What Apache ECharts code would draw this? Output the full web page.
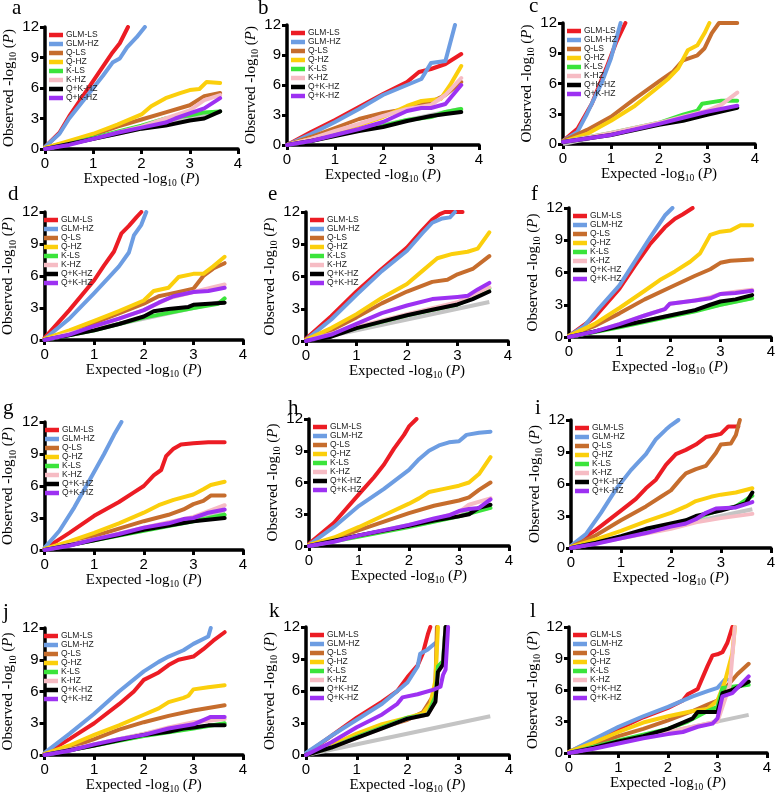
<!DOCTYPE html>
<html><head><meta charset="utf-8">
<script src="https://cdn.jsdelivr.net/npm/echarts@6/dist/echarts.min.js"></script>
<style>html,body{margin:0;padding:0;background:#fff}#c{width:778px;height:797px}</style>
</head><body><div id="c"></div>
<script>
const panelLetters = ['a','b','c','d','e','f','g','h','i','j','k','l'];
const seriesNames = ['GLM-LS','GLM-HZ','Q-LS','Q-HZ','K-LS','K-HZ','Q+K-LS','Q+K-HZ'];
const legendLabels = ['GLM-LS','GLM-HZ','Q-LS','Q-HZ','K-LS','K-HZ','Q+K-HZ','Q+K-HZ'];
const seriesColors = ['#ec1c24','#6d9de2','#c66d2d','#fbcf0c','#3be43b','#f6bcc4','#000000','#9d31f2'];
const xTicks = [0,1,2,3,4];
const yTicks = [0,3,6,9,12];
const diagonal = [[0,0],[3.63,3.63]];

const panelA = [
  [[0,0.2],[0.3,1.6],[0.5,3.2],[0.8,5.3],[1.0,6.7],[1.2,8.1],[1.4,9.5],[1.55,10.4],[1.72,12]],
  [[0,0.2],[0.3,1.5],[0.5,3.0],[0.8,4.8],[1.0,6.0],[1.2,7.2],[1.4,8.5],[1.55,8.9],[1.7,10.0],[1.9,11.0],[2.07,12]],
  [[0,0.1],[0.5,0.7],[1,1.4],[1.5,2.2],[2,2.9],[2.5,3.6],[3.0,4.3],[3.3,5.2],[3.63,5.5]],
  [[0,0.1],[0.5,0.8],[1,1.5],[1.5,2.4],[2,3.4],[2.2,4.2],[2.5,5.0],[2.8,5.5],[3.0,5.8],[3.2,5.9],[3.35,6.6],[3.63,6.5]],
  [[0,0],[0.5,0.5],[1,1.1],[1.5,1.7],[2,2.3],[2.5,3.0],[3.0,3.3],[3.3,3.6],[3.63,3.7]],
  [[0,0],[0.5,0.5],[1,1.0],[1.5,1.6],[2,2.2],[2.5,3.0],[3.0,3.8],[3.3,4.8],[3.63,5.3]],
  [[0,0],[0.5,0.5],[1,1.0],[1.5,1.5],[2,2.0],[2.5,2.3],[3.0,2.8],[3.3,3.0],[3.63,3.7]],
  [[0,0],[0.5,0.4],[1,1.0],[1.5,1.6],[2,2.1],[2.5,2.6],[2.7,3.0],[3.0,3.5],[3.3,4.0],[3.63,5.0]]
];
const panelB = [
  [[0,0],[0.5,1.3],[1,2.5],[1.5,3.8],[2,5.1],[2.5,6.3],[2.75,7.3],[3.0,7.6],[3.3,8.1],[3.63,9.1]],
  [[0,0],[0.5,1.1],[1,2.3],[1.5,3.6],[2,5.0],[2.5,6.0],[2.8,6.6],[3.0,8.2],[3.3,8.4],[3.5,12]],
  [[0,0],[0.5,0.8],[1,1.7],[1.5,2.6],[2,3.2],[2.5,3.6],[3.0,4.3],[3.3,5.0],[3.63,6.3]],
  [[0,0],[0.5,0.6],[1,1.3],[1.5,2.0],[2,2.8],[2.5,3.9],[2.8,4.4],[3.0,4.5],[3.2,4.6],[3.4,6.0],[3.63,7.9]],
  [[0,0],[0.5,0.4],[1,1.0],[1.5,1.5],[2,1.9],[2.5,2.5],[3.0,2.8],[3.3,3.3],[3.63,3.6]],
  [[0,0],[0.5,0.6],[1,1.4],[1.5,2.1],[2,2.9],[2.5,3.6],[3.0,4.0],[3.3,5.0],[3.63,6.7]],
  [[0,0],[0.5,0.4],[1,0.9],[1.5,1.4],[2,1.8],[2.5,2.4],[3.0,2.9],[3.3,3.1],[3.63,3.3]],
  [[0,0],[0.5,0.4],[1,1.0],[1.5,1.6],[2,2.3],[2.5,3.4],[2.8,3.7],[3.0,3.7],[3.3,4.1],[3.63,6.0]]
];
const panelC = [
  [[0,0.3],[0.3,1.5],[0.6,4.0],[0.9,7.5],[1.1,10],[1.3,12]],
  [[0,0.3],[0.3,1.2],[0.5,3.0],[0.8,6.0],[1.0,8.5],[1.2,12]],
  [[0,0.3],[0.5,1.4],[1,2.7],[1.5,4.5],[2,6.2],[2.3,7.2],[2.5,8.3],[2.8,8.8],[2.95,9.5],[3.1,11.0],[3.25,12],[3.63,12]],
  [[0,0.2],[0.5,1.0],[1,2.3],[1.5,3.8],[2,5.7],[2.2,6.5],[2.4,7.5],[2.6,9.3],[2.8,9.8],[2.95,11],[3.05,12]],
  [[0,0.2],[1,1.1],[2,2.1],[2.5,2.9],[2.8,3.3],[2.9,4.0],[3.3,4.3],[3.63,4.3]],
  [[0,0.2],[1,1.1],[2,2.1],[2.5,2.7],[3,3.3],[3.3,3.9],[3.63,5.1]],
  [[0,0.2],[1,0.9],[2,1.9],[2.5,2.3],[3,2.9],[3.63,3.6]],
  [[0,0.2],[1,0.9],[2,2.0],[2.5,2.6],[3,3.2],[3.63,3.8]]
];
const panelD = [
  [[0,0.2],[0.5,2.8],[1,5.6],[1.2,7.0],[1.4,8.3],[1.55,10],[1.7,10.7],[1.85,11.5],[1.95,12]],
  [[0,0.1],[0.5,2.0],[1,4.4],[1.3,5.9],[1.5,6.9],[1.7,8.2],[1.8,9.8],[1.95,10.8],[2.05,12]],
  [[0,0.1],[0.5,0.8],[1,1.6],[1.5,2.5],[2,3.4],[2.3,4.1],[2.5,4.3],[2.8,4.6],[3.0,4.8],[3.2,6.0],[3.4,6.7],[3.63,7.2]],
  [[0,0.1],[0.5,0.9],[1,1.8],[1.5,2.7],[2,3.7],[2.2,4.6],[2.5,4.9],[2.7,5.9],[3,6.2],[3.2,6.2],[3.4,6.9],[3.63,7.8]],
  [[0,0],[1,0.9],[2,2.1],[3,3.0],[3.5,3.4],[3.63,3.9]],
  [[0,0],[1,1.2],[2,2.8],[2.5,3.9],[3,4.5],[3.63,5.2]],
  [[0,0],[1,0.9],[1.5,1.5],[2,2.2],[2.2,2.7],[2.5,2.9],[2.9,3.1],[3,3.3],[3.63,3.5]],
  [[0,0],[0.5,0.5],[1,1.3],[1.5,2.0],[2,2.8],[2.3,3.5],[2.6,4.1],[3,4.5],[3.3,4.6],[3.63,4.9]]
];
const panelE = [
  [[0,0.2],[0.5,2.3],[1,4.6],[1.5,6.7],[2,8.7],[2.3,10.3],[2.5,11.3],[2.65,11.8],[2.75,12],[3.1,12]],
  [[0,0.1],[0.5,2.0],[1,4.3],[1.5,6.5],[2,8.4],[2.3,10.0],[2.5,11.0],[2.7,11.4],[2.85,11.5],[2.95,12]],
  [[0,0.1],[0.5,1.0],[1,2.2],[1.5,3.5],[2,4.6],[2.5,5.5],[2.8,5.7],[3.0,6.2],[3.3,6.7],[3.63,7.9]],
  [[0,0.1],[0.5,1.2],[1,2.5],[1.5,4.0],[2,5.3],[2.3,6.5],[2.6,7.7],[2.9,8.1],[3.2,8.3],[3.4,8.6],[3.63,10.1]],
  [[0,0],[1,1.2],[2,2.4],[2.5,2.9],[3,3.4],[3.3,4.0],[3.63,4.9]],
  [[0,0],[1,1.3],[2,2.5],[3,3.6],[3.63,5.0]],
  [[0,0],[0.5,0.4],[1,1.2],[1.5,1.8],[2,2.4],[2.5,2.9],[3,3.4],[3.3,3.9],[3.63,4.6]],
  [[0,0],[0.5,0.6],[1,1.6],[1.5,2.6],[2,3.3],[2.5,3.9],[3,4.1],[3.2,4.2],[3.4,4.8],[3.63,5.4]]
];
const panelF = [
  [[0,0.1],[0.5,1.8],[1,4.5],[1.3,6.6],[1.6,8.6],[1.9,10.2],[2.1,11],[2.25,11.4],[2.45,12]],
  [[0,0.1],[0.3,1.0],[0.6,2.7],[1,4.8],[1.3,7.0],[1.6,9.2],[1.9,11.3],[2.05,12]],
  [[0,0.1],[0.5,1.0],[1,2.2],[1.5,3.5],[2,4.6],[2.5,5.7],[2.8,6.3],[3.0,6.9],[3.2,7.1],[3.63,7.2]],
  [[0,0.1],[0.5,1.2],[1,2.7],[1.5,4.3],[1.8,5.3],[2.1,6.1],[2.4,7.0],[2.6,7.8],[2.8,9.5],[3.0,9.8],[3.2,9.9],[3.4,10.4],[3.63,10.4]],
  [[0,0],[1,0.9],[2,1.9],[2.5,2.4],[3,3.0],[3.63,3.6]],
  [[0,0],[0.5,0.5],[1,1.2],[1.5,2.0],[1.9,2.6],[2.0,3.1],[2.5,3.4],[2.8,3.7],[3.0,4.0],[3.3,4.2],[3.63,4.4]],
  [[0,0],[1,1.0],[2,2.0],[2.5,2.5],[2.8,3.0],[3.0,3.3],[3.3,3.5],[3.63,3.9]],
  [[0,0],[0.5,0.5],[1,1.2],[1.5,2.0],[1.9,2.6],[2.0,3.1],[2.5,3.4],[2.8,3.6],[3.0,4.0],[3.3,4.1],[3.63,4.3]]
];
const panelG = [
  [[0,0.1],[0.5,1.6],[1,3.2],[1.5,4.5],[1.8,5.4],[2,6.0],[2.2,7.0],[2.35,7.5],[2.45,8.8],[2.6,9.5],[2.75,9.9],[3.0,10.0],[3.3,10.1],[3.63,10.1]],
  [[0,0.2],[0.3,1.8],[0.6,4.0],[0.9,6.5],[1.2,9.0],[1.4,10.8],[1.55,12]],
  [[0,0.1],[0.5,0.6],[1,1.3],[1.5,2.0],[2,2.7],[2.5,3.3],[2.8,3.8],[3,4.3],[3.2,4.6],[3.35,5.1],[3.63,5.1]],
  [[0,0.1],[0.5,0.8],[1,1.6],[1.5,2.5],[2,3.5],[2.3,4.2],[2.6,4.7],[3,5.2],[3.2,5.7],[3.35,6.1],[3.63,6.4]],
  [[0,0],[1,0.9],[2,1.8],[3,2.7],[3.63,3.3]],
  [[0,0],[1,1.0],[2,2.1],[2.5,2.6],[3,3.1],[3.63,4.2]],
  [[0,0],[1,0.9],[2,1.9],[2.5,2.3],[3,2.7],[3.63,3.0]],
  [[0,0],[0.5,0.4],[1,1.0],[1.5,1.5],[2,2.1],[2.5,2.5],[2.8,2.9],[3.0,3.0],[3.3,3.5],[3.63,3.8]]
];
const panelH = [
  [[0,0.2],[0.5,2.2],[1,4.9],[1.3,6.5],[1.5,7.7],[1.7,9.2],[1.9,10.5],[2.0,11.3],[2.15,12]],
  [[0,0.1],[0.5,1.8],[1,3.8],[1.5,5.4],[2,7.2],[2.2,8.2],[2.4,9.0],[2.6,9.5],[2.8,9.8],[3,9.9],[3.15,10.5],[3.4,10.7],[3.63,10.8]],
  [[0,0.1],[0.5,0.7],[1,1.5],[1.5,2.3],[2,3.1],[2.5,3.8],[3,4.3],[3.2,4.6],[3.4,5.3],[3.63,6.0]],
  [[0,0.1],[0.5,0.8],[1,1.8],[1.5,2.9],[2,4.0],[2.2,4.5],[2.4,5.1],[2.7,5.4],[3,5.7],[3.2,6.0],[3.4,6.8],[3.63,8.4]],
  [[0,0],[1,0.9],[2,1.8],[3,2.8],[3.63,3.6]],
  [[0,0],[1,1.0],[2,1.9],[2.5,2.5],[3,3.2],[3.2,3.9],[3.63,4.5]],
  [[0,0],[1,1.0],[2,1.9],[2.5,2.4],[3,2.8],[3.2,3.0],[3.4,3.6],[3.63,3.9]],
  [[0,0],[0.5,0.4],[1,1.0],[1.5,1.5],[2,2.0],[2.5,2.6],[2.8,2.9],[3,3.3],[3.2,3.5],[3.4,3.6],[3.63,4.4]]
];
const panelI = [
  [[0,0.1],[0.5,1.7],[1,3.5],[1.3,4.6],[1.5,5.6],[1.7,6.4],[1.9,7.8],[2.1,8.8],[2.3,9.2],[2.5,9.7],[2.7,10.4],[2.9,10.6],[3.0,10.7],[3.15,11.4],[3.35,11.4]],
  [[0,0.2],[0.3,1.3],[0.6,3.3],[0.9,5.5],[1.2,7.3],[1.5,8.8],[1.7,10.2],[1.9,11.1],[2.0,11.5],[2.15,12]],
  [[0,0.1],[0.5,1.2],[1,2.6],[1.5,3.9],[1.8,4.8],[2.0,5.4],[2.2,6.5],[2.3,7.0],[2.5,7.4],[2.7,7.7],[2.9,8.9],[3.0,9.7],[3.2,9.8],[3.3,10.6],[3.35,11.5],[3.38,12]],
  [[0,0.1],[0.5,0.8],[1,1.6],[1.5,2.5],[2,3.3],[2.3,3.9],[2.5,4.4],[2.8,4.8],[3,5.0],[3.3,5.2],[3.63,5.6]],
  [[0,0],[1,1.0],[2,2.2],[2.5,2.8],[3,3.6],[3.3,3.9],[3.63,4.9]],
  [[0,0],[1,0.9],[2,1.8],[2.5,2.4],[3,2.8],[3.63,3.2]],
  [[0,0],[0.5,0.5],[1,1.1],[1.5,1.8],[2,2.3],[2.3,2.6],[2.5,3.0],[3,3.5],[3.3,3.9],[3.5,4.2],[3.63,5.2]],
  [[0,0],[0.5,0.4],[1,0.9],[1.5,1.4],[2,2.0],[2.3,2.3],[2.5,2.7],[2.7,3.3],[2.9,3.7],[3.3,3.8],[3.63,4.3]]
];
const panelJ = [
  [[0,0.1],[0.5,1.5],[1,3.0],[1.5,4.8],[1.8,6.0],[2.0,7.1],[2.3,7.8],[2.5,8.5],[2.7,9.0],[3,9.3],[3.2,10.0],[3.4,10.8],[3.63,11.6]],
  [[0,0.2],[0.5,2.0],[1,3.9],[1.5,6.0],[2,7.9],[2.3,8.8],[2.5,9.3],[2.8,9.9],[3,10.5],[3.3,11.2],[3.35,12]],
  [[0,0.1],[0.5,0.7],[1,1.5],[1.5,2.4],[2,3.1],[2.5,3.7],[3,4.2],[3.63,4.7]],
  [[0,0.1],[0.5,0.9],[1,1.9],[1.5,2.8],[2,3.8],[2.3,4.4],[2.5,5.0],[2.8,5.4],[2.9,5.6],[3.0,6.2],[3.3,6.4],[3.63,6.6]],
  [[0,0],[1,0.9],[2,1.8],[3,2.5],[3.63,3.0]],
  [[0,0],[1,1.0],[2,2.0],[2.5,2.6],[3,3.1],[3.63,3.4]],
  [[0,0],[1,0.9],[2,1.9],[2.5,2.2],[2.8,2.5],[3,2.6],[3.3,2.8],[3.63,2.8]],
  [[0,0],[0.5,0.4],[1,1.0],[1.5,1.5],[2,1.9],[2.5,2.5],[3,2.9],[3.2,3.3],[3.35,3.6],[3.63,3.6]]
];
const panelK = [
  [[0,0.1],[0.5,1.8],[1,3.5],[1.5,5.0],[1.8,6.0],[2.0,7.3],[2.2,8.4],[2.3,9.5],[2.4,11.3],[2.45,12]],
  [[0,0.2],[0.5,1.8],[1,3.3],[1.5,4.8],[1.8,6.0],[2.0,6.8],[2.2,8.3],[2.25,9.5],[2.4,9.9],[2.55,10.5]],
  [[0,0],[0.5,0.8],[1,1.7],[1.5,2.6],[2,3.3],[2.3,4.0],[2.5,5.5],[2.55,6.5],[2.58,12]],
  [[0,0],[0.5,0.9],[1,2.0],[1.5,2.9],[2,3.5],[2.3,3.9],[2.45,4.8],[2.55,7],[2.6,12]],
  [[0,0],[0.5,0.7],[1,1.7],[1.5,2.6],[2,3.5],[2.4,3.8],[2.55,5.5],[2.6,8.3],[2.7,8.8],[2.75,12]],
  [[0,0],[0.5,0.7],[1,1.6],[1.5,2.5],[2,3.4],[2.4,3.8],[2.55,5.0],[2.6,7.8],[2.7,8.5],[2.75,12]],
  [[0,0],[0.5,0.7],[1,1.6],[1.5,2.5],[2,3.4],[2.4,3.8],[2.55,5.0],[2.6,7.8],[2.7,8.5],[2.75,12]],
  [[0,0],[0.5,1.2],[1,2.6],[1.5,3.8],[1.8,4.8],[1.9,5.4],[2.2,5.7],[2.5,6.1],[2.65,6.4],[2.7,7.5],[2.75,8.0],[2.8,12]]
];
const panelL = [
  [[0,0.1],[0.5,1.2],[1,2.3],[1.5,3.4],[2,4.3],[2.3,5.0],[2.4,5.6],[2.6,6.1],[2.7,7.2],[2.8,8.3],[2.9,9.3],[3.0,9.4],[3.1,9.6],[3.2,10.5],[3.3,12]],
  [[0,0.1],[0.5,1.3],[1,2.5],[1.5,3.5],[2,4.4],[2.5,5.4],[2.8,5.9],[3.0,6.2],[3.15,7.0],[3.2,7.0]],
  [[0,0.1],[0.5,0.8],[1,1.6],[1.5,2.3],[2,3.1],[2.5,4.0],[2.8,4.6],[3.0,5.0],[3.2,6.4],[3.4,7.5],[3.63,8.5]],
  [[0,0.1],[0.5,1.0],[1,2.0],[1.5,2.9],[2,3.5],[2.5,4.0],[2.8,4.2],[3.0,5.0],[3.15,6.8],[3.3,9.5],[3.35,12]],
  [[0,0],[1,1.2],[2,2.3],[2.4,3.0],[2.6,3.5],[2.8,4.0],[3.0,4.4],[3.1,6.2],[3.63,6.5]],
  [[0,0],[1,1.0],[2,2.0],[3,3.0],[3.25,6.5],[3.35,12]],
  [[0,0],[0.5,0.5],[1,1.1],[1.5,1.6],[2,2.3],[2.3,2.9],[2.5,3.3],[2.6,3.9],[3.0,3.9],[3.1,5.7],[3.3,6.0],[3.63,6.8]],
  [[0,0],[0.5,0.4],[1,0.9],[1.5,1.4],[2,1.8],[2.3,2.0],[2.6,2.5],[2.9,2.8],[3.0,3.3],[3.1,5.4],[3.3,5.7],[3.63,7.3]]
];

const panels = [panelA,panelB,panelC,panelD,panelE,panelF,panelG,panelH,panelI,panelJ,panelK,panelL];
// layout: [left, top, width, height] of each plot area
const boxes = [
  [45,27,193,122],[287,25,192,120],[563,23,192,121],
  [40,212,203,128],[306,212,202,129],[569,208,203,129],
  [41,422,202,128],[309,419,200,127],[571,420,202,128],
  [40,628,203,127],[306,627,203,128],[569,627,198,126]
];
const letterPos = [[12,-2],[258,-2],[529,-4],[8,184],[268,184],[531,184],[3,398],[288,398],[535,398],[3,602],[269,601],[530,601]];

const serif = 'Liberation Serif, Times New Roman, serif';
const sans = 'Liberation Sans, Arial, sans-serif';
const rich = {
  n: {fontFamily: serif, fontSize: 15, color: '#000', lineHeight: 19, verticalAlign: 'middle'},
  s: {fontFamily: serif, fontSize: 9.5, color: '#000', lineHeight: 9, verticalAlign: 'bottom'},
  i: {fontFamily: serif, fontSize: 15, color: '#000', fontStyle: 'italic', lineHeight: 19, verticalAlign: 'middle'}
};
const xName = '{n|Expected -log}{s|10}{n| (}{i|P}{n|)}';
const yName = '{n|Observed -log}{s|10}{n| (}{i|P}{n|)}';

const grid = [], xAxis = [], yAxis = [], series = [], legend = [], title = [];
boxes.forEach((b, k) => {
  grid.push({left: b[0], top: b[1], width: b[2], height: b[3], containLabel: false});
  const axisCommon = {
    gridIndex: k, type: 'value', splitLine: {show: false},
    axisLine: {show: true, onZero: false, lineStyle: {color: '#000', width: 3.5}},
    axisTick: {show: true, length: 5, lineStyle: {color: '#000', width: 3}},
    axisLabel: {color: '#000', fontFamily: sans, fontSize: 15},
    nameLocation: 'middle', nameTextStyle: {rich: rich}
  };
  xAxis.push(Object.assign({}, axisCommon, {min: xTicks[0], max: xTicks[xTicks.length-1], interval: 1, name: xName, nameGap: 20,
    axisLabel: Object.assign({}, axisCommon.axisLabel, {margin: 7})}));
  yAxis.push(Object.assign({}, axisCommon, {min: yTicks[0], max: yTicks[yTicks.length-1], interval: 3, name: yName, nameGap: 20,
    axisLabel: Object.assign({}, axisCommon.axisLabel, {margin: 6})}));
  series.push({type: 'line', xAxisIndex: k, yAxisIndex: k, data: diagonal, showSymbol: false, silent: true,
    lineStyle: {color: '#c4c4c4', width: 4}, itemStyle: {color: '#c4c4c4'}, z: 1});
  panels[k].forEach((d, s) => {
    series.push({type: 'line', name: seriesNames[s], xAxisIndex: k, yAxisIndex: k, data: d,
      showSymbol: false, symbol: 'none', clip: true,
      lineStyle: {color: seriesColors[s], width: 4, join: 'round', cap: 'round'},
      itemStyle: {color: seriesColors[s]}, z: 2 + s});
  });
  legend.push({data: seriesNames, orient: 'vertical', left: b[0] + 4, top: b[1] + 3.5, padding: 0,
    itemGap: 0, itemWidth: 14, itemHeight: 4.5, icon: 'rect', selectedMode: false,
    formatter: name => legendLabels[seriesNames.indexOf(name)],
    textStyle: {fontFamily: sans, fontSize: 8.5, lineHeight: 6.8, color: '#222', padding: [0,0,0,-2]}});
  title.push({text: panelLetters[k], left: letterPos[k][0], top: letterPos[k][1], padding: 0,
    textStyle: {fontFamily: serif, fontSize: 21, fontWeight: 'normal', color: '#000'}});
});

const chart = echarts.init(document.getElementById('c'), null, {renderer: 'canvas'});
chart.setOption({backgroundColor: '#fff', animation: false, title, grid, xAxis, yAxis, series, legend});
</script></body></html>
